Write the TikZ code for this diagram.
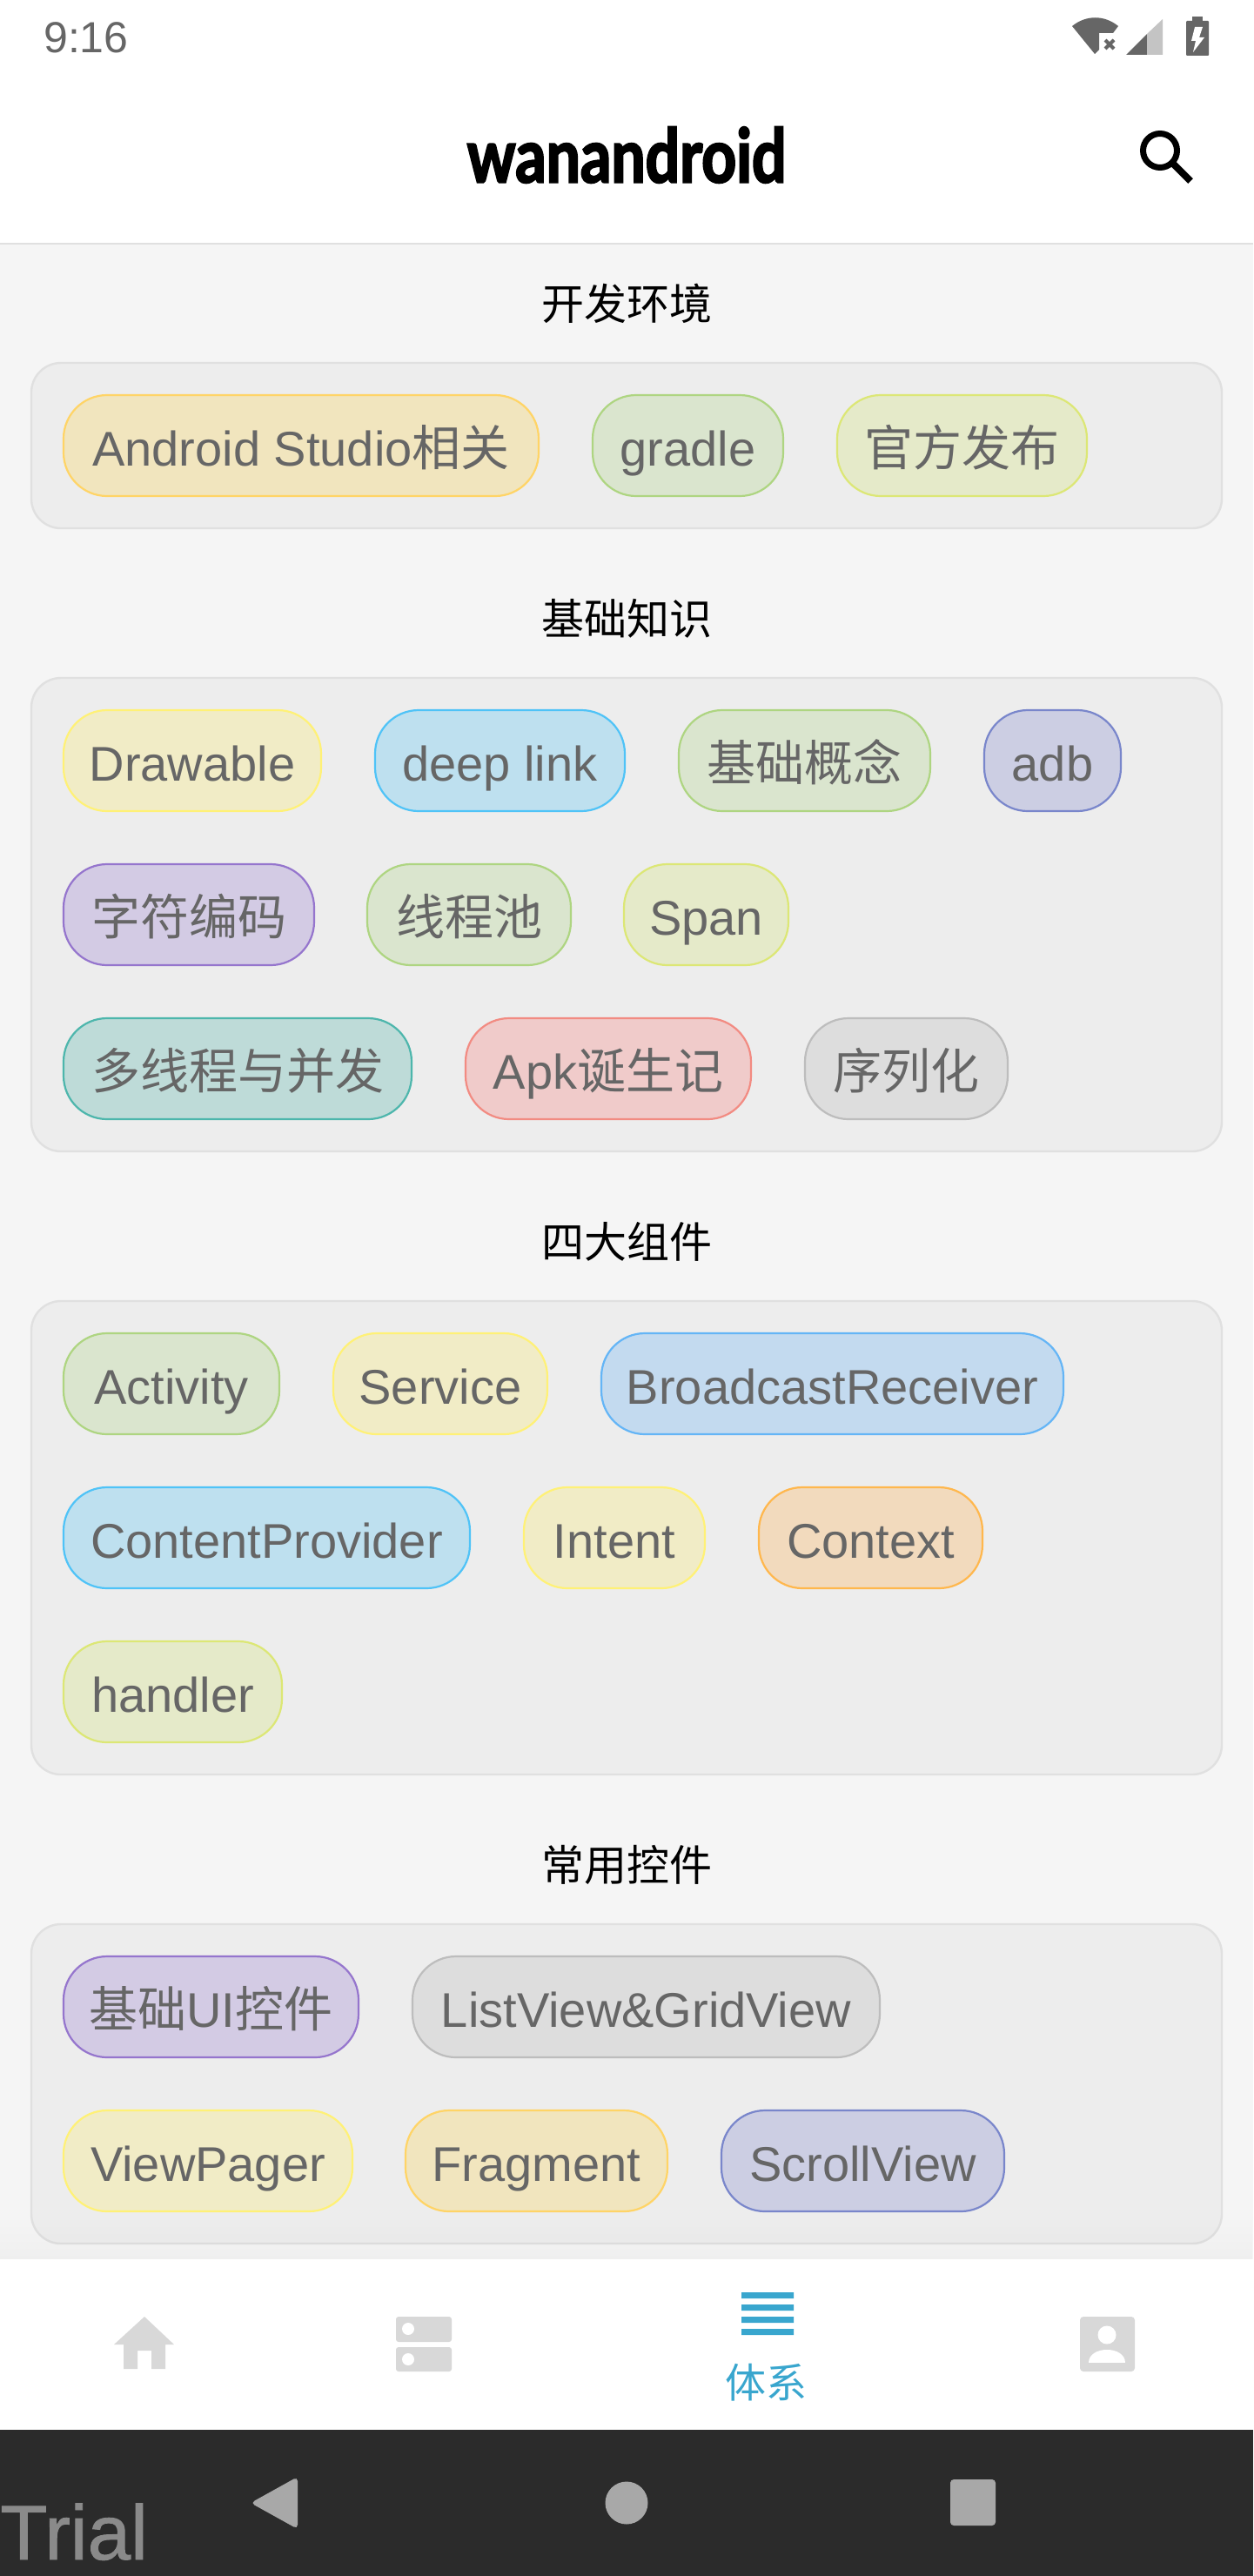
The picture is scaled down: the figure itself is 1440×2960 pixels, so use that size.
\documentclass[tikz,border=0pt]{standalone}
\usepackage{fontspec}
\usetikzlibrary{fadings}
\setmainfont{Liberation Sans}
\newfontfamily\cjk{Noto Sans CJK SC}
\newfontfamily\logofont[FakeStretch=0.81,FakeBold=2.5]{Lato}
\newfontfamily\trialfont[FakeBold=1]{Liberation Sans}
\definecolor{pagebg}{HTML}{F5F5F5}
\definecolor{cardbg}{HTML}{EDEDED}
\definecolor{cardline}{HTML}{E0E0E0}
\definecolor{chiptext}{HTML}{666666}
\definecolor{navgrey}{HTML}{D8D8D8}
\definecolor{navblue}{HTML}{39A6CE}
\definecolor{softkey}{HTML}{A8A8A8}
\definecolor{barbg}{HTML}{2B2B2B}
\definecolor{amberfill}{HTML}{F1E5BE}
\definecolor{amberline}{HTML}{FFD466}
\definecolor{greenfill}{HTML}{DAE5CE}
\definecolor{greenline}{HTML}{AED581}
\definecolor{limefill}{HTML}{E5EAC9}
\definecolor{limeline}{HTML}{DCE775}
\definecolor{yellowfill}{HTML}{F1ECC6}
\definecolor{yellowline}{HTML}{FFF176}
\definecolor{skyfill}{HTML}{BEE0EF}
\definecolor{skyline}{HTML}{4FC3F7}
\definecolor{indigofill}{HTML}{CCCEE3}
\definecolor{indigoline}{HTML}{7986CB}
\definecolor{purplefill}{HTML}{D3CBE4}
\definecolor{purpleline}{HTML}{9575CD}
\definecolor{tealfill}{HTML}{BEDBD8}
\definecolor{tealline}{HTML}{4DB6AC}
\definecolor{redfill}{HTML}{F0CBCA}
\definecolor{redline}{HTML}{F28B82}
\definecolor{greyfill}{HTML}{DDDDDD}
\definecolor{greyline}{HTML}{BDBDBD}
\definecolor{bluefill}{HTML}{C3DAEF}
\definecolor{blueline}{HTML}{64B5F6}
\definecolor{orangefill}{HTML}{F2DABD}
\definecolor{orangeline}{HTML}{FFB74D}
\tikzset{
  chip/.style={draw=#1line, fill=#1fill, line width=2.2pt, rounded corners=50pt, anchor=west,
    minimum height=116pt, inner sep=0pt, outer sep=0pt, text=chiptext, text height=60pt, text depth=14pt,
    font=\fontsize{56}{60}\selectfont},
  card/.style={draw=cardline, fill=cardbg, line width=2.4pt, rounded corners=34pt, anchor=north west,
    minimum width=1368pt, inner sep=0pt, outer sep=0pt},
  headline/.style={inner sep=0pt, font=\fontsize{49}{52}\selectfont\cjk},
  navicon/.style={fill=navgrey},
  softbutton/.style={fill=softkey}
}
\begin{document}
\begin{tikzpicture}[x=1pt, y=-1pt]
   \useasboundingbox (0,0) rectangle (1440,2960);
   \fill[pagebg] (0,0) rectangle (1440,2960);
   \fill[white] (0,0) rectangle (1440,280);
   \draw[cardline, line width=2pt] (0,280) -- (1440,280);

   \node[anchor=base west, inner sep=0pt, text=chiptext, font=\fontsize{50}{52}\selectfont] (clock) at (50,61) {9:16};
   \fill[chiptext] (1232,30) .. controls (1248,17) and (1269,17) .. (1285,30) -- (1279,38) -- (1263,38) -- (1263,57) -- (1258,62) -- cycle;
   \draw[chiptext, line width=4pt] (1270,46) -- (1280,56) (1280,46) -- (1270,56);
   \fill[chiptext] (1294,63) -- (1318,39) -- (1318,63) -- cycle;
   \fill[black!23] (1318,39) -- (1336,22) -- (1336,63) -- (1318,63) -- cycle;
   \fill[chiptext, rounded corners=1pt] (1363,24) rectangle (1389,64);
   \fill[chiptext] (1370,19) rectangle (1382,24);
   \fill[white] (1373,31) -- (1382,31) -- (1378,43) -- (1384,43) -- (1371,60) -- (1374,47) -- (1369,47) -- cycle;

   \node[inner sep=0pt, font=\fontsize{86}{90}\selectfont\logofont\bfseries] (logo) at (720,178) {wanandroid};
   \draw[line width=7pt] (1333,173) circle (19.5pt);
   \draw[line width=8pt] (1348,188) -- (1368,208);

   \node[headline] (envtitle) at (720,349) {开发环境};
   \node[card, minimum height=190pt] (envcard) at (36,417) {};
   \node[chip=amber, minimum width=546pt] (studio) at (73,512) {Android Studio{\cjk 相关}};
   \node[chip=green, minimum width=219pt] (gradle) at (681,512) {gradle};
   \node[chip=lime, minimum width=287pt] (release) at (962,512) {\cjk 官方发布};

   \node[headline] (basetitle) at (720,711) {基础知识};
   \node[card, minimum height=544pt] (basecard) at (36,779) {};
   \node[chip=yellow, minimum width=296pt] (drawable) at (73,874) {Drawable};
   \node[chip=sky, minimum width=287pt] (deeplink) at (431,874) {deep link};
   \node[chip=green, minimum width=289pt] (concept) at (780,874) {\cjk 基础概念};
   \node[chip=indigo, minimum width=157pt] (adb) at (1131,874) {adb};
   \node[chip=purple, minimum width=288pt] (charset) at (73,1051) {\cjk 字符编码};
   \node[chip=green, minimum width=234pt] (threadpool) at (422,1051) {\cjk 线程池};
   \node[chip=lime, minimum width=189pt] (span) at (717,1051) {Span};
   \node[chip=teal, minimum width=400pt] (threads) at (73,1228) {\cjk 多线程与并发};
   \node[chip=red, minimum width=328pt] (apk) at (535,1228) {Apk{\cjk 诞生记}};
   \node[chip=grey, minimum width=233pt] (serial) at (925,1228) {\cjk 序列化};

   \node[headline] (comptitle) at (720,1427) {四大组件};
   \node[card, minimum height=544pt] (compcard) at (36,1495) {};
   \node[chip=green, minimum width=248pt] (activity) at (73,1590) {Activity};
   \node[chip=yellow, minimum width=246pt] (service) at (383,1590) {Service};
   \node[chip=blue, minimum width=531pt] (receiver) at (691,1590) {BroadcastReceiver};
   \node[chip=sky, minimum width=467pt] (provider) at (73,1767) {ContentProvider};
   \node[chip=yellow, minimum width=208pt] (intent) at (602,1767) {Intent};
   \node[chip=orange, minimum width=257pt] (context) at (872,1767) {Context};
   \node[chip=lime, minimum width=251pt] (handler) at (73,1944) {handler};

   \node[headline] (widgettitle) at (720,2143) {常用控件};
   \node[card, minimum height=367pt] (widgetcard) at (36,2211) {};
   \node[chip=purple, minimum width=339pt] (basicui) at (73,2306) {{\cjk 基础}UI{\cjk 控件}};
   \node[chip=grey, minimum width=537pt] (listview) at (474,2306) {ListView\&GridView};
   \node[chip=yellow, minimum width=332pt] (viewpager) at (73,2483) {ViewPager};
   \node[chip=amber, minimum width=301pt] (fragment) at (466,2483) {Fragment};
   \node[chip=indigo, minimum width=325pt] (scrollview) at (829,2483) {ScrollView};

   \fill[black, opacity=.025, path fading=north] (0,2546) rectangle (1440,2596);
   \fill[white] (0,2596) rectangle (1440,2792);
   \fill[barbg] (0,2792) rectangle (1440,2960);

   \fill[navicon] (166,2662) -- (200,2694) -- (190,2694) -- (190,2722) -- (174,2722) -- (174,2701) -- (158,2701) -- (158,2722) -- (142,2722) -- (142,2694) -- (131,2694) -- cycle;
   \fill[navicon, rounded corners=3pt] (455,2662) rectangle (519,2691);
   \fill[navicon, rounded corners=3pt] (455,2697) rectangle (519,2725);
   \fill[white] (469,2676) circle (7pt) (469,2711) circle (7pt);
   \fill[navblue] (852,2634) rectangle (912,2641) (852,2648) rectangle (912,2655) (852,2662) rectangle (912,2669) (852,2676) rectangle (912,2683);
   \node[inner sep=0pt, text=navblue, font=\fontsize{47}{50}\selectfont\cjk] (system) at (880,2738) {体系};
   \fill[navicon, rounded corners=4pt] (1241,2662) rectangle (1304,2725);
   \fill[white] (1272,2683) circle (10.5pt);
   \fill[white] (1251,2715) .. controls (1251,2695) and (1293,2695) .. (1293,2715) -- cycle;

   \node[anchor=base west, inner sep=0pt, text=black!46, font=\fontsize{89}{92}\selectfont\trialfont] (trial) at (0,2941) {Trial};
   \fill[softbutton, rounded corners=5pt] (342,2846) -- (342,2906) -- (288,2876) -- cycle;
   \fill[softbutton] (720,2876) circle (24.5pt);
   \fill[softbutton, rounded corners=4pt] (1092,2849) rectangle (1144,2902);
\end{tikzpicture}
\end{document}
